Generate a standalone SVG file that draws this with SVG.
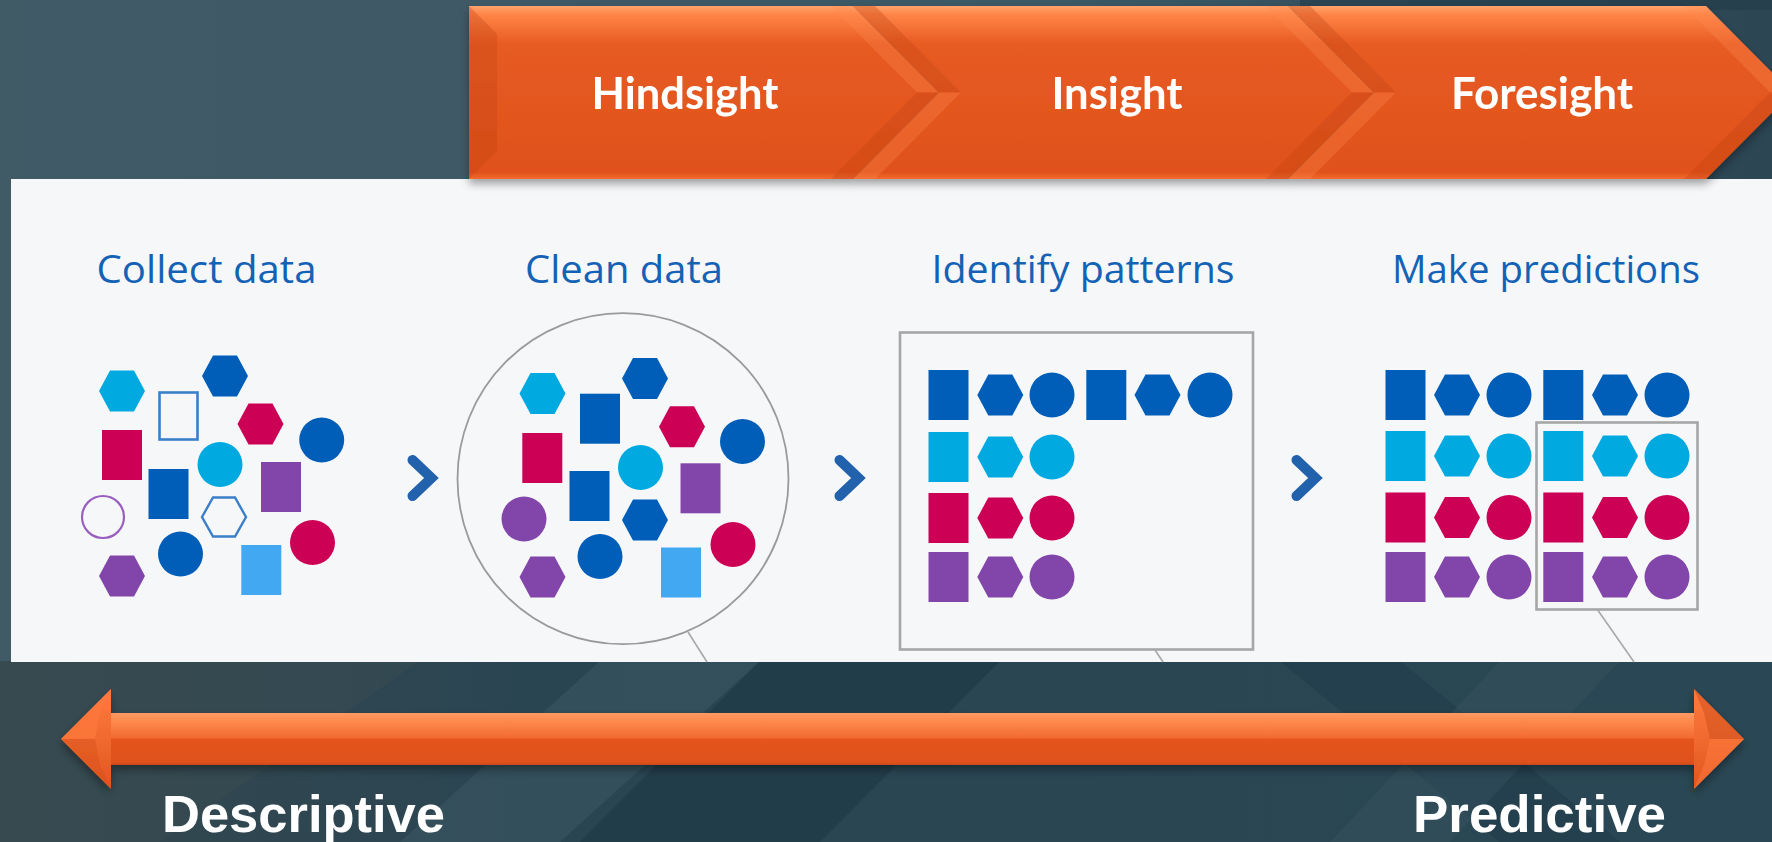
<svg xmlns="http://www.w3.org/2000/svg" xmlns:xlink="http://www.w3.org/1999/xlink" width="1772" height="842" viewBox="0 0 1772 842">
<defs>
<style>
.db{fill:#005eb8}
.cy{fill:#00a9e0}
.cr{fill:#cc0055}
.pu{fill:#8246aa}
.lb{fill:#42a8f1}
.lbl{font-family:"Open Sans","Liberation Sans",sans-serif;font-size:39px;fill:#1462b6;text-anchor:middle}
.hdr{font-family:Lato,"Open Sans","Liberation Sans",sans-serif;font-weight:700;font-size:43px;fill:#ffffff;text-anchor:middle}
.big{font-family:"Liberation Sans",Arial,sans-serif;font-weight:700;font-size:52px;fill:#ffffff}
.nxt{fill:none;stroke:#2262ad;stroke-width:10;stroke-linecap:round;stroke-linejoin:miter}
.call{fill:none;stroke:#a8a8a8;stroke-width:1.6}
.frame{fill:none;stroke:#a6a6a6;stroke-width:2.6}
.dk{fill:#c44514;opacity:.35}
.lt{fill:#ff8a50;opacity:.3}
</style>
<linearGradient id="bgTop" x1="0" y1="0" x2="1" y2="0">
<stop offset="0" stop-color="#405b66"/>
<stop offset="0.6" stop-color="#3d5865"/>
<stop offset="1" stop-color="#2c4654"/>
</linearGradient>
<linearGradient id="bgBot" x1="0" y1="0" x2="1" y2="0">
<stop offset="0" stop-color="#35484f"/>
<stop offset="0.3" stop-color="#2a4552"/>
<stop offset="1" stop-color="#2a4755"/>
</linearGradient>
<linearGradient id="og" gradientUnits="userSpaceOnUse" x1="0" y1="6" x2="0" y2="179">
<stop offset="0" stop-color="#ffa36c"/>
<stop offset="0.05" stop-color="#ff8447"/>
<stop offset="0.22" stop-color="#e75b23"/>
<stop offset="0.6" stop-color="#e3561f"/>
<stop offset="0.96" stop-color="#e0511a"/>
<stop offset="1" stop-color="#f26b30"/>
</linearGradient>
<linearGradient id="shaft" gradientUnits="userSpaceOnUse" x1="0" y1="713" x2="0" y2="765">
<stop offset="0" stop-color="#ff9a62"/>
<stop offset="0.15" stop-color="#ff8a4e"/>
<stop offset="0.48" stop-color="#f26a31"/>
<stop offset="0.5" stop-color="#e3541c"/>
<stop offset="0.95" stop-color="#e0511a"/>
<stop offset="1" stop-color="#c9481a"/>
</linearGradient>
<linearGradient id="head" gradientUnits="userSpaceOnUse" x1="0" y1="689" x2="0" y2="789">
<stop offset="0" stop-color="#ff7a3e"/>
<stop offset="0.5" stop-color="#f06a30"/>
<stop offset="1" stop-color="#e0561e"/>
</linearGradient>
<filter id="sh" x="-5%" y="-20%" width="110%" height="150%">
<feDropShadow dx="0" dy="5" stdDeviation="4" flood-color="#000" flood-opacity="0.35"/>
</filter>
<polygon id="hx" points="-23,0 -12,-20.5 12,-20.5 23,0 12,20.5 -12,20.5"/>
<circle id="ci" r="22.5"/>
<rect id="sq" x="-20" y="-25" width="40" height="50"/>
</defs>

<g id="background">
<rect x="0" y="0" width="1772" height="842" fill="url(#bgTop)"/>
<rect x="0" y="661" width="1772" height="181" fill="url(#bgBot)"/>
<polygon points="600,661 760,661 560,842 400,842" fill="#3b5663" opacity="0.6"/>
<polygon points="760,661 1000,661 820,842 580,842" fill="#1c3644" opacity="0.55"/>
<polygon points="1280,661 1400,661 1620,842 1500,842" fill="#1d3745" opacity="0.5"/>
<polygon points="1500,661 1620,661 1450,842 1330,842" fill="#3a5562" opacity="0.4"/>
<polygon points="0,661 420,661 160,842 0,842" fill="#3a4b52" opacity="0.5"/>
<rect x="1300" y="0" width="472" height="10" fill="#233c49" opacity="0.6"/>
</g>

<g id="panel">
<rect x="11" y="179" width="1761" height="483" fill="#f6f7f9"/>
</g>

<g id="chevrons" filter="url(#sh)">
<g id="hindsight">
<polygon points="469,6 853,6 939,92.5 853,179 469,179" fill="url(#og)"/>
<polygon class="dk" points="469,6 497,34 497,151 469,179"/>
<polygon class="lt" points="831,6 853,6 939,92.5 917,92.5"/>
<polygon class="dk" points="917,92.5 939,92.5 853,179 831,179"/>
<text class="hdr" x="685" y="109" textLength="187" lengthAdjust="spacingAndGlyphs">Hindsight</text>
</g>
<g id="insight">
<polygon points="853,6 1288,6 1374,92.5 1288,179 853,179 939,92.5" fill="url(#og)"/>
<polygon class="dk" points="853,6 939,92.5 961,92.5 875,6"/>
<polygon class="lt" points="939,92.5 853,179 875,179 961,92.5"/>
<polygon class="lt" points="1266,6 1288,6 1374,92.5 1352,92.5"/>
<polygon class="dk" points="1352,92.5 1374,92.5 1288,179 1266,179"/>
<text class="hdr" x="1117" y="109" textLength="131" lengthAdjust="spacingAndGlyphs">Insight</text>
</g>
<g id="foresight">
<polygon points="1288,6 1706,6 1792,92.5 1706,179 1288,179 1374,92.5" fill="url(#og)"/>
<polygon class="dk" points="1288,6 1374,92.5 1396,92.5 1310,6"/>
<polygon class="lt" points="1374,92.5 1288,179 1310,179 1396,92.5"/>
<polygon class="lt" points="1684,6 1706,6 1792,92.5 1770,92.5"/>
<polygon class="dk" points="1770,92.5 1792,92.5 1706,179 1684,179"/>
<text class="hdr" x="1542" y="109" textLength="182" lengthAdjust="spacingAndGlyphs">Foresight</text>
</g>
</g>

<g id="collect">
<text class="lbl" x="206.5" y="283" textLength="220" lengthAdjust="spacingAndGlyphs">Collect data</text>
<use href="#hx" x="122" y="391" class="cy"/>
<rect x="159.5" y="392.5" width="38" height="47" fill="none" stroke="#3a7fc8" stroke-width="2.6"/>
<use href="#hx" x="225" y="376" class="db"/>
<use href="#hx" x="260.5" y="424" class="cr"/>
<use href="#ci" x="321.7" y="440" class="db"/>
<use href="#sq" x="122" y="455" class="cr"/>
<use href="#ci" x="220" y="464.5" class="cy"/>
<use href="#sq" x="281" y="487" class="pu"/>
<use href="#sq" x="168.5" y="494" class="db"/>
<circle cx="103" cy="517" r="21" fill="none" stroke="#9a5ec0" stroke-width="2.2"/>
<polygon points="202,517 213,497.5 235,497.5 246,517 235,536.5 213,536.5" fill="none" stroke="#3a7fc8" stroke-width="2.4"/>
<use href="#ci" x="312.5" y="542.5" class="cr"/>
<use href="#ci" x="180.5" y="554" class="db"/>
<use href="#hx" x="122" y="576" class="pu"/>
<use href="#sq" x="261.3" y="570" class="lb"/>
</g>

<g id="clean">
<text class="lbl" x="624" y="283" textLength="198" lengthAdjust="spacingAndGlyphs">Clean data</text>
<circle cx="623" cy="478.7" r="165.5" fill="none" stroke="#9a9a9a" stroke-width="1.8"/>
<use href="#hx" x="542.5" y="393.5" class="cy"/>
<use href="#sq" x="600" y="418.7" class="db"/>
<use href="#hx" x="645" y="378.5" class="db"/>
<use href="#hx" x="682" y="426.7" class="cr"/>
<use href="#ci" x="742.5" y="441.5" class="db"/>
<use href="#sq" x="542.3" y="458" class="cr"/>
<use href="#ci" x="640.5" y="467.5" class="cy"/>
<use href="#sq" x="700.5" y="488.3" class="pu"/>
<use href="#sq" x="589.5" y="496" class="db"/>
<use href="#ci" x="524" y="519" class="pu"/>
<use href="#hx" x="645" y="520" class="db"/>
<use href="#ci" x="733" y="544.5" class="cr"/>
<use href="#ci" x="600" y="556.5" class="db"/>
<use href="#hx" x="542.5" y="577" class="pu"/>
<use href="#sq" x="681" y="572.5" class="lb"/>
</g>

<g id="identify">
<text class="lbl" x="1083" y="283" textLength="303" lengthAdjust="spacingAndGlyphs">Identify patterns</text>
<rect class="frame" x="900" y="332.5" width="353" height="317"/>
<use href="#sq" x="948.5" y="395" class="db"/>
<use href="#hx" x="1000.3" y="395" class="db"/>
<use href="#ci" x="1052" y="395" class="db"/>
<use href="#sq" x="1106.3" y="395" class="db"/>
<use href="#hx" x="1157.5" y="395" class="db"/>
<use href="#ci" x="1210" y="395" class="db"/>
<use href="#sq" x="948.5" y="457" class="cy"/>
<use href="#hx" x="1000.3" y="457" class="cy"/>
<use href="#ci" x="1052" y="457" class="cy"/>
<use href="#sq" x="948.5" y="518" class="cr"/>
<use href="#hx" x="1000.3" y="518" class="cr"/>
<use href="#ci" x="1052" y="518" class="cr"/>
<use href="#sq" x="948.5" y="577" class="pu"/>
<use href="#hx" x="1000.3" y="577" class="pu"/>
<use href="#ci" x="1052" y="577" class="pu"/>
</g>

<g id="predict">
<text class="lbl" x="1546" y="283" textLength="308" lengthAdjust="spacingAndGlyphs">Make predictions</text>
<use href="#sq" x="1405.5" y="395" class="db"/>
<use href="#hx" x="1457" y="395" class="db"/>
<use href="#ci" x="1509" y="395" class="db"/>
<use href="#sq" x="1563.3" y="395" class="db"/>
<use href="#hx" x="1615" y="395" class="db"/>
<use href="#ci" x="1667" y="395" class="db"/>
<use href="#sq" x="1405.5" y="456" class="cy"/>
<use href="#hx" x="1457" y="456" class="cy"/>
<use href="#ci" x="1509" y="456" class="cy"/>
<use href="#sq" x="1563.3" y="456" class="cy"/>
<use href="#hx" x="1615" y="456" class="cy"/>
<use href="#ci" x="1667" y="456" class="cy"/>
<use href="#sq" x="1405.5" y="517.5" class="cr"/>
<use href="#hx" x="1457" y="517.5" class="cr"/>
<use href="#ci" x="1509" y="517.5" class="cr"/>
<use href="#sq" x="1563.3" y="517.5" class="cr"/>
<use href="#hx" x="1615" y="517.5" class="cr"/>
<use href="#ci" x="1667" y="517.5" class="cr"/>
<use href="#sq" x="1405.5" y="577" class="pu"/>
<use href="#hx" x="1457" y="577" class="pu"/>
<use href="#ci" x="1509" y="577" class="pu"/>
<use href="#sq" x="1563.3" y="577" class="pu"/>
<use href="#hx" x="1615" y="577" class="pu"/>
<use href="#ci" x="1667" y="577" class="pu"/>
<rect class="frame" x="1536.5" y="422.5" width="161" height="187"/>
</g>

<g id="connectors">
<polyline class="nxt" points="412.5,460 431.5,478 412.5,496"/>
<polyline class="nxt" points="839.5,460 858.5,478 839.5,496"/>
<polyline class="nxt" points="1296.5,460 1315.5,478 1296.5,496"/>
<line class="call" x1="688" y1="632" x2="707" y2="662"/>
<line class="call" x1="1155" y1="650" x2="1163" y2="662"/>
<line class="call" x1="1597" y1="609" x2="1634" y2="662"/>
</g>

<g id="scale-arrow" filter="url(#sh)">
<rect x="100" y="713" width="1604" height="52" fill="url(#shaft)"/>
<polygon points="61,739 111,689 111,789" fill="url(#head)"/>
<polygon points="61,739 111,689 100,713 95,739" fill="#ff7a3e" opacity="0.6"/>
<polygon points="61,739 95,739 100,765 111,789" fill="#d9521c" opacity="0.5"/>
<polygon points="1744,739 1694,689 1694,789" fill="url(#head)"/>
<polygon points="1744,739 1694,689 1704,713 1710,739" fill="#c94a18" opacity="0.45"/>
<polygon points="1744,739 1710,739 1704,765 1694,789" fill="#ff7a3e" opacity="0.5"/>
</g>

<g id="labels">
<text class="big" x="162" y="832" textLength="283" lengthAdjust="spacingAndGlyphs">Descriptive</text>
<text class="big" x="1413" y="832" textLength="253" lengthAdjust="spacingAndGlyphs">Predictive</text>
</g>
</svg>
